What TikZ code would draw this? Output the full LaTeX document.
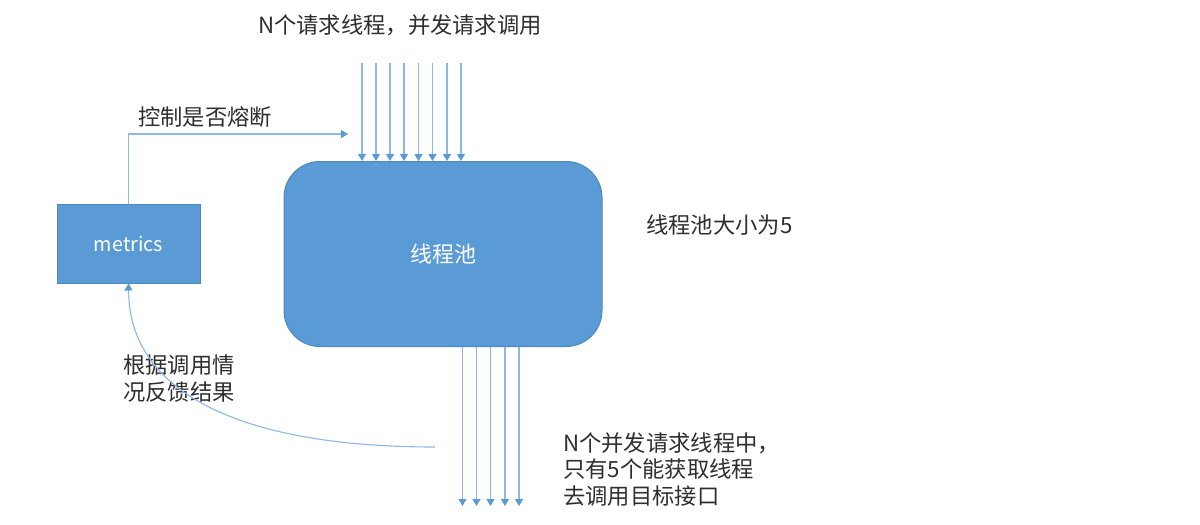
\documentclass[tikz,border=0pt]{standalone}
\usepackage{fontspec}
\newfontfamily\cjk{Noto Sans CJK SC}
\usetikzlibrary{arrows.meta}
\definecolor{boxblue}{HTML}{5B9BD5}
\definecolor{boxedge}{HTML}{4F88BE}
\definecolor{linkblue}{HTML}{8DB8E6}
\definecolor{tipblue}{HTML}{5B9BD5}
\definecolor{txt}{HTML}{2E2E2E}
\tikzset{
  lbl/.style={font=\cjk\fontsize{22.3}{26.5}\selectfont, text=txt, inner sep=0pt, align=left},
  boxnode/.style={fill=boxblue, draw=boxedge, line width=1pt, text=white, inner sep=0pt},
  link/.style={draw=linkblue, line width=1.1pt, -{Triangle[width=8pt,length=7pt,fill=tipblue,color=tipblue]}},
}
\begin{document}
\begin{tikzpicture}[x=1pt,y=-1pt]
\useasboundingbox (0,0) rectangle (1200,525);
% boxes
\node[boxnode, minimum width=143pt, minimum height=79pt, font=\cjk\fontsize{19.8}{22}\selectfont] (metrics) at (128.5,243.5) {metrics};
\node[boxnode, minimum width=318pt, minimum height=185pt, rounded corners=36pt, font=\cjk\fontsize{22}{24}\selectfont] (pool) at (443,254) {线程池};
% texts
\node[lbl] (top) at (400,25) {N个请求线程，并发请求调用};
\node[lbl, anchor=west] (ctrl) at (138,117) {控制是否熔断};
\node[lbl, anchor=west] (size) at (646,225) {线程池大小为5};
\node[lbl, anchor=north west] (fb) at (123,355) {根据调用情\\况反馈结果};
\node[lbl, anchor=north west] (only) at (563,432) {N个并发请求线程中，\\只有5个能获取线程\\去调用目标接口};
% incoming arrows
\foreach \i/\x in {1/362,2/376,3/390,4/404,5/418.5,6/432.5,7/447,8/461}{
  \coordinate (in\i) at (\x,63);
  \draw[link] (in\i) -- (in\i |- pool.north);
}
% outgoing arrows
\foreach \i/\x in {1/462.5,2/476.5,3/490.5,4/505,5/519}{
  \coordinate (out\i) at (\x,506);
  \draw[link] (out\i |- pool.south) -- (out\i);
}
% control arrow
\coordinate (ctrlend) at (348,134);
\draw[link] (metrics.north) |- (ctrlend);
% feedback curve
\coordinate (fbstart) at (435,447);
\draw[link] (fbstart) .. controls (245,447) and (129,395) .. (metrics.south);
\end{tikzpicture}
\end{document}
